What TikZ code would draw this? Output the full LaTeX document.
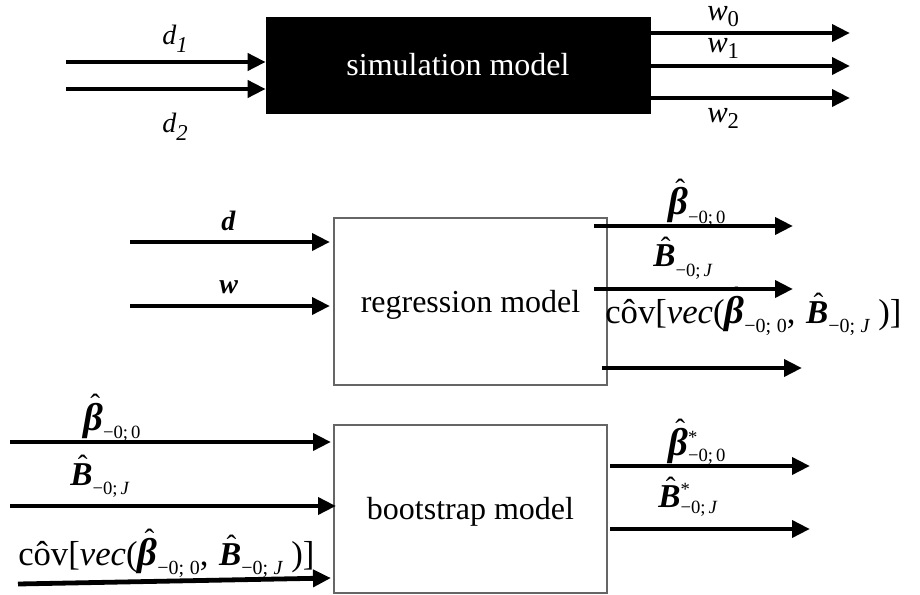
\documentclass[tikz,border=0pt]{standalone}
\usepackage{fontspec}
\setmainfont{Liberation Serif}
\usetikzlibrary{arrows.meta}
\newsavebox{\hatsave}
\newcommand{\hatbox}[2][0pt]{\sbox{\hatsave}{#2}\leavevmode\rlap{\hbox to\wd\hatsave{\hss\hspace*{#1}\raisebox{\dimexpr\ht\hatsave-9pt\relax}{\fontsize{22}{22}\selectfont\mdseries\upshape ˆ}\hss}}\usebox{\hatsave}}
\newcommand{\hbeta}{\hatbox[3pt]{\fontsize{29}{29}\selectfont\bfseries\itshape β}}
\newcommand{\hBB}{\hatbox[2pt]{\fontsize{25}{25}\selectfont\bfseries\itshape B}}
\newcommand{\lowsub}[2][-6pt]{\raisebox{#1}{\fontsize{14}{14}\selectfont #2}}
\newcommand{\covsub}[1]{\raisebox{-7pt}{\fontsize{15}{15}\selectfont #1}}
\newcommand{\starsub}[1]{\rlap{\raisebox{9pt}{\fontsize{14}{14}\selectfont *}}\raisebox{-5pt}{\fontsize{14}{14}\selectfont #1}}
\newcommand{\covlabel}{côv[\textit{vec}(\hbeta\covsub{−0;\;0},\hspace{8pt}\hBB\covsub{−0;\;\textit{J}}\hspace{6pt})]}
\begin{document}
\begin{tikzpicture}[x=0.75pt,y=-0.75pt,
  arr/.style={line width=3.6pt,-{Triangle[length=13.5pt,width=12.5pt]}},
  box/.style={draw=black!60,line width=0.8pt,minimum width=204.75pt,inner sep=0pt},
  lab/.style={font=\fontsize{24}{28}\selectfont,inner sep=0pt,anchor=base west},
  wlab/.style={font=\fontsize{23}{26}\selectfont,inner sep=0pt,anchor=base west},
  smlab/.style={font=\fontsize{21}{24}\selectfont,inner sep=0pt,anchor=base west},
  covlab/.style={font=\fontsize{26}{30}\selectfont,inner sep=0pt,anchor=base west}]
\useasboundingbox (0,0) rectangle (920,595);
% simulation model
\node[draw=black,fill=black,minimum width=288pt,minimum height=72pt,inner sep=0pt] (sim) at (458,65) {};
\node[font=\fontsize{24}{28}\selectfont,inner sep=0pt,text=white] (simt) at (458,65) {simulation model};
\coordinate (d1s) at (66,62);
\coordinate (d2s) at (66,89);
\draw[arr] (d1s) -- (d1s -| sim.west);
\draw[arr] (d2s) -- (d2s -| sim.west);
\node[smlab] (d1) at (162,45) {\textit{d}\lowsub[-6pt]{\fontsize{17}{17}\selectfont\textit{1}}};
\node[smlab] (d2) at (162,133) {\textit{d}\lowsub[-6pt]{\fontsize{17}{17}\selectfont\textit{2}}};
\coordinate (w0e) at (850,33);
\coordinate (w1e) at (850,66);
\coordinate (w2e) at (850,98);
\draw[arr] (w0e -| sim.east) -- (w0e);
\draw[arr] (w1e -| sim.east) -- (w1e);
\draw[arr] (w2e -| sim.east) -- (w2e);
\node[wlab] (w0) at (707,21) {\textit{w}\lowsub[-4.5pt]{\fontsize{17}{17}\selectfont 0}};
\node[wlab] (w1) at (707,53) {\textit{w}\lowsub[-4.5pt]{\fontsize{17}{17}\selectfont 1}};
\node[wlab] (w2) at (707,123) {\textit{w}\lowsub[-4.5pt]{\fontsize{17}{17}\selectfont 2}};
% regression model
\node[box,minimum height=125.25pt] (reg) at (470.5,301.5) {};
\node[font=\fontsize{24}{28}\selectfont,inner sep=0pt] (regt) at (470.5,305) {regression model};
\coordinate (ds) at (130,242);
\coordinate (de) at (330,242);
\coordinate (ws) at (130,306);
\coordinate (we) at (330,306);
\draw[arr] (ds) -- (de);
\draw[arr] (ws) -- (we);
\node[smlab] (dl) at (221,230) {\textbf{\textit{d}}};
\node[smlab] (wl) at (219,293) {\textbf{\textit{w}}};
\coordinate (rb1s) at (594,226);
\coordinate (rb1e) at (793,226);
\coordinate (rb2s) at (594,289);
\coordinate (rb2e) at (793,289);
\coordinate (rb3s) at (602,368);
\coordinate (rb3e) at (802,368);
\draw[arr] (rb1s) -- (rb1e);
\draw[arr] (rb2s) -- (rb2e);
\draw[arr] (rb3s) -- (rb3e);
\node[lab] (rl1) at (668,215) {\hbeta\lowsub{−0;\,0}};
\node[lab] (rl2) at (653,267) {\hBB\lowsub[-7pt]{−0;\,\textit{J}}};
\node[covlab] (rl3) at (605,323) {\covlabel};
% bootstrap model
\node[box,minimum height=126pt] (boot) at (470.5,509) {};
\node[font=\fontsize{24}{28}\selectfont,inner sep=0pt] (boott) at (470.5,512) {bootstrap model};
\coordinate (bi1s) at (10,442);
\coordinate (bi1e) at (331,442);
\coordinate (bi2s) at (10,506);
\coordinate (bi2e) at (336,506);
\coordinate (bi3s) at (18,584);
\coordinate (bi3e) at (331,578);
\draw[arr] (bi1s) -- (bi1e);
\draw[arr] (bi2s) -- (bi2e);
\draw[arr] (bi3s) -- (bi3e);
\node[lab] (bl1) at (83,430) {\hbeta\lowsub{−0;\,0}};
\node[lab] (bl2) at (70,485) {\hBB\lowsub[-7pt]{−0;\,\textit{J}}};
\node[covlab] (bl3) at (18,565) {\covlabel};
\coordinate (bo1s) at (610,466);
\coordinate (bo1e) at (810,466);
\coordinate (bo2s) at (610,529);
\coordinate (bo2e) at (810,529);
\draw[arr] (bo1s) -- (bo1e);
\draw[arr] (bo2s) -- (bo2e);
\node[lab] (bol1) at (668,455) {\hbeta\starsub{−0;\,0}};
\node[lab] (bol2) at (658,507) {\hBB\starsub{−0;\,\textit{J}}};
\end{tikzpicture}
\end{document}
